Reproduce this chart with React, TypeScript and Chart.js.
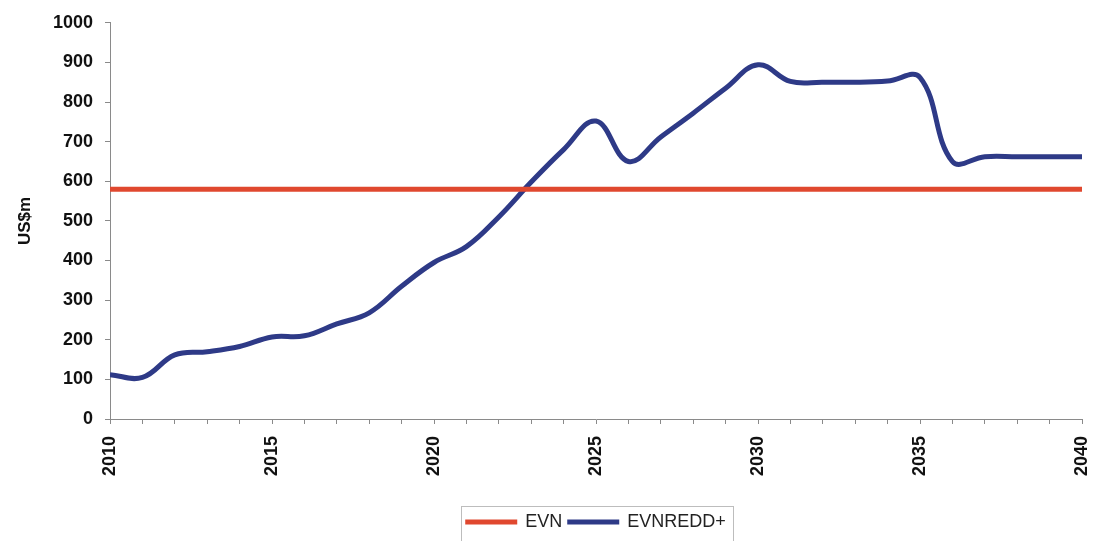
import React, { useEffect, useRef } from "react";
import { Chart, registerables } from "chart.js";

Chart.register(...registerables);

const years: number[] = [
  2010, 2011, 2012, 2013, 2014, 2015, 2016, 2017, 2018, 2019, 2020,
  2021, 2022, 2023, 2024, 2025, 2026, 2027, 2028, 2029, 2030,
  2031, 2032, 2033, 2034, 2035, 2036, 2037, 2038, 2039, 2040,
];

const evn: number[] = years.map(() => 580);

const evnRedd: number[] = [
  112, 105, 162, 170, 183, 207, 210, 240, 268, 335, 395,
  435, 510, 598, 680, 752, 650, 712, 772, 835, 894,
  852, 850, 850, 853, 862, 650, 662, 662, 662, 662,
];

const seriesLabels: string[] = ["EVN", "EVNREDD+"];
const xLabelYears: number[] = [2010, 2015, 2020, 2025, 2030, 2035, 2040];

const FONT = "'Liberation Sans', Arial, sans-serif";

const legendBorder = {
  id: "legendBorder",
  afterDraw(chart: any) {
    const lg = chart.legend;
    if (!lg || !lg.legendHitBoxes || !lg.legendHitBoxes.length) return;
    const boxes = lg.legendHitBoxes;
    let minX = Infinity, maxX = -Infinity, minY = Infinity;
    boxes.forEach((b: any) => {
      minX = Math.min(minX, b.left);
      maxX = Math.max(maxX, b.left + b.width);
      minY = Math.min(minY, b.top);
    });
    const ctx = chart.ctx;
    ctx.save();
    ctx.strokeStyle = "#bdbdbd";
    ctx.lineWidth = 1;
    ctx.strokeRect(Math.round(minX - 5) + 0.5, Math.round(minY - 7) + 0.5, Math.round(maxX - minX + 12), 60);
    ctx.restore();
  },
};

export default function App() {
  const ref = useRef<HTMLCanvasElement | null>(null);

  useEffect(() => {
    if (!ref.current) return;
    const chart = new Chart(ref.current, {
      type: "line",
      data: {
        datasets: [
          {
            label: seriesLabels[0],
            data: years.map((y, i) => ({ x: y, y: evn[i] })),
            borderColor: "#E0482F",
            backgroundColor: "#E0482F",
            borderWidth: 5,
            pointRadius: 0,
            tension: 0,
          },
          {
            label: seriesLabels[1],
            data: years.map((y, i) => ({ x: y, y: evnRedd[i] })),
            borderColor: "#2E3A87",
            backgroundColor: "#2E3A87",
            borderWidth: 5,
            pointRadius: 0,
            tension: 0.4,
          },
        ],
      },
      options: {
        animation: false,
        responsive: false,
        maintainAspectRatio: false,
        layout: { padding: { top: 20, right: 11, left: 0, bottom: 0 } },
        plugins: {
          tooltip: { enabled: false },
          legend: {
            position: "bottom",
            fullSize: false,
            labels: {
              boxWidth: 50,
              boxHeight: 3,
              padding: 6,
              color: "#222",
              font: { family: FONT, size: 18 },
              generateLabels: (chart: any) =>
                Chart.defaults.plugins.legend.labels.generateLabels(chart).map((l: any) => ({
                  ...l,
                  lineWidth: 2,
                })),
            },
          },
        },
        scales: {
          x: {
            type: "linear",
            min: 2010,
            max: 2040,
            ticks: {
              stepSize: 1,
              autoSkip: false,
              maxRotation: 90,
              minRotation: 90,
              padding: 12,
              color: "#111",
              font: { family: FONT, size: 18, weight: "bold" },
              callback: (v: any) => (xLabelYears.includes(Number(v)) ? String(v) : ""),
            },
            grid: { drawOnChartArea: false, tickLength: 5, color: "#8a8a8a" },
            border: { color: "#8a8a8a", width: 1 },
            afterFit: (s: any) => {
              s.height = 88;
              s.paddingLeft = 0;
              s.paddingRight = 0;
            },
          },
          y: {
            min: 0,
            max: 1000,
            ticks: {
              stepSize: 100,
              padding: 12,
              color: "#111",
              font: { family: FONT, size: 18, weight: "bold" },
              callback: (v: any) => String(v),
            },
            grid: { drawOnChartArea: false, tickLength: 5, color: "#8a8a8a" },
            border: { color: "#8a8a8a", width: 1 },
            title: {
              display: true,
              text: "US$m",
              color: "#111",
              font: { family: FONT, size: 17, weight: "bold" },
              padding: { top: 15, bottom: 0 },
            },
            afterFit: (s: any) => {
              s.width = 110;
            },
          },
        },
      },
      plugins: [legendBorder],
    });
    return () => chart.destroy();
  }, []);

  return (
    <div style={{ position: "fixed", left: 0, top: 0, width: 1093, height: 541, background: "#fff" }}>
      <canvas ref={ref} width={1093} height={541} style={{ width: 1093, height: 541, display: "block" }} />
    </div>
  );
}
